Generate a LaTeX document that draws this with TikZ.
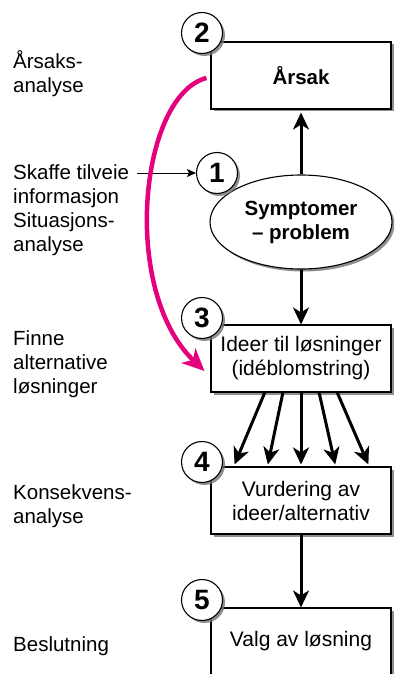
\documentclass[tikz,border=0pt]{standalone}
\usepackage{fontspec}
\setmainfont{Liberation Sans}
\usetikzlibrary{shapes.geometric,arrows.meta,shadows,calc}
\definecolor{mag}{HTML}{E5007D}
\definecolor{shad}{gray}{0.45}
\begin{document}
\begin{tikzpicture}[x=1pt,y=-1pt,
  txt/.style={font=\fontsize{20.5}{24}\selectfont},
  sh/.style={drop shadow={shadow xshift=2.5pt, shadow yshift=-2.5pt, fill=shad, opacity=0.8}},
  box/.style={draw, line width=1.1pt, fill=white, minimum width=180pt, minimum height=67pt,
    inner sep=0pt, align=center, font=\fontsize{21}{24}\selectfont, sh},
  ell/.style={draw, ellipse, line width=1.1pt, fill=white, minimum width=182pt, minimum height=94pt,
    inner sep=0pt, align=center, font=\bfseries\fontsize{20.5}{24}\selectfont, sh},
  num/.style={draw, circle, line width=1.1pt, fill=white, minimum size=41pt, inner sep=0pt,
    font=\bfseries\fontsize{28}{28}\selectfont, sh},
  lbl/.style={anchor=base west, align=left, inner sep=0pt, txt},
  flow/.style={line width=3pt, -{Stealth[length=17pt, width=16pt, inset=5pt]}},
  thinarr/.style={line width=1pt, -{Stealth[length=9pt, width=8pt, inset=2pt]}},
  magarr/.style={line width=4.5pt, draw=mag, -{Stealth[length=22pt, width=20pt, inset=6pt]}}
]
\useasboundingbox (0,0) rectangle (394,674);
\clip (0,0) rectangle (394,674);

% left labels (anchored at the baseline of the last line)
\node[lbl] (l2) at (13,93) {Årsaks-\\analyse};
\node[lbl] (l1) at (13,251) {Skaffe tilveie\\informasjon\\Situasjons-\\analyse};
\node[lbl] (l3) at (13,393) {Finne\\alternative\\løsninger};
\node[lbl] (l4) at (13,523) {Konsekvens-\\analyse};
\node[lbl] (l5) at (13,651) {Beslutning};

% boxes
\node[box, font=\bfseries\fontsize{20.5}{24}\selectfont] (b2) at (301,75.5) {Årsak};
\node[ell] (sym) at (301,222) {Symptomer\\– problem};
\node[box] (b3) at (301,358.5) {Ideer til løsninger\\(idéblomstring)};
\node[box] (b4) at (301,500.5) {Vurdering av\\ideer/alternativ};
\node[box] (b5) at (301,641.5) {Valg av løsning};

% number circles
\node[num] (n2) at (202,33) {2};
\node[num] (n1) at (217,173) {1};
\node[num] (n3) at (202,318) {3};
\node[num] (n4) at (202,462) {4};
\node[num] (n5) at (202,600) {5};

% connectors
\draw[flow] (sym.north) -- ($(b2.south)+(0,3)$);
\draw[flow] (sym.south) -- (b3.north);
\foreach \a/\b in {0.3/0.133, 0.4/0.317, 0.5/0.5, 0.6/0.689, 0.7/0.872}
  \draw[flow] ($(b3.south west)!\a!(b3.south east)$) -- ($(b4.north west)!\b!(b4.north east)+(0,-2)$);
\draw[flow] (b4.south) -- (b5.north);

\coordinate (sk) at (137,173);
\draw[thinarr] (sk) -- (n1.west);

\draw[magarr] ($(b2.west)+(-4,2.5)$) .. controls (140,95) and (120,290) .. ($(b3.west)+(-6,12.5)$);
\end{tikzpicture}
\end{document}
